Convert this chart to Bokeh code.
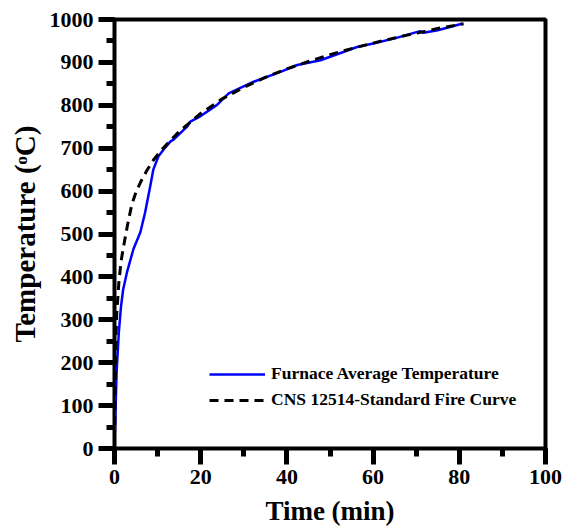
from bokeh.plotting import figure
from bokeh.models import Range1d, SingleIntervalTicker, Legend, LegendItem
from bokeh.embed import file_html
from bokeh.resources import INLINE

# Furnace average temperature
furnace_t = [0.1, 0.5, 1.0, 1.5, 2.0, 2.9, 4.4, 6.0, 7.1, 8.3, 9.0, 10.2, 11.4, 13.0,
             13.7, 16.9, 17.6, 20.0, 23.8, 24.6, 26.5, 32.3, 38.5, 42.4, 47.8, 56.3,
             60.0, 65.0, 70.9, 71.7, 75.0, 80.6]
furnace_T = [40, 180, 270, 330, 370, 411, 465, 504, 550, 612, 650, 681, 697, 716,
             720, 751, 762, 775, 801, 809, 828, 855, 878, 894, 905, 936,
             944, 956, 973, 969, 975, 990]

# CNS 12514 standard fire curve
cns_t = [0, 0.25, 0.5, 1, 1.5, 2, 3, 4, 5, 6, 7.5, 9, 11, 13, 15, 20, 25, 30, 35,
         40, 45, 50, 55, 60, 65, 70, 75, 81]
cns_T = [20, 230, 310, 385, 435, 465, 520, 568, 598, 620, 648, 672, 697, 718, 739,
         781, 815, 842, 865, 885, 902, 918, 932, 945, 957, 968, 979, 990]

labels = ["Furnace Average Temperature", "CNS 12514-Standard Fire Curve"]

FONT = "Liberation Serif"

p = figure(width=563, height=528, output_backend="svg", toolbar_location=None,
           x_range=Range1d(0, 100), y_range=Range1d(0, 1000),
           min_border_left=114, min_border_right=18, min_border_top=19,
           min_border_bottom=77)

p.xgrid.visible = False
p.ygrid.visible = False
p.outline_line_color = "black"
p.outline_line_width = 4
p.outline_line_alpha = 1

r1 = p.line(furnace_t, furnace_T, line_color="#0000ff", line_width=2.5)
r2 = p.line(cns_t, cns_T, line_color="black", line_width=3, line_dash="9 6")

p.xaxis.ticker = SingleIntervalTicker(interval=20, num_minor_ticks=2)
p.yaxis.ticker = SingleIntervalTicker(interval=100, num_minor_ticks=2)

p.axis.major_tick_line_width = 5
p.axis.minor_tick_line_width = 5
p.axis.major_tick_line_color = "black"
p.axis.minor_tick_line_color = "black"
p.axis.major_tick_in = 0
p.axis.major_tick_out = 16
p.axis.minor_tick_in = 0
p.axis.minor_tick_out = 8
p.axis.major_label_text_font = FONT
p.axis.major_label_text_font_style = "bold"
p.axis.major_label_text_font_size = "22px"
p.axis.major_label_text_color = "black"
p.axis.axis_label_text_font = FONT
p.axis.axis_label_text_font_style = "bold"
p.axis.axis_label_text_color = "black"

p.xaxis.axis_label = "Time (min)"
p.xaxis.axis_label_text_font_size = "27px"
p.xaxis.axis_label_standoff = 9
p.yaxis.axis_label = "Temperature (ᵒC)"
p.yaxis.axis_label_text_font_size = "29px"
p.yaxis.axis_label_standoff = 6

legend = Legend(items=[LegendItem(label=labels[0], renderers=[r1]),
                       LegendItem(label=labels[1], renderers=[r2])],
                location=(95, 38), margin=0, padding=0, spacing=5,
                glyph_width=56, glyph_height=20, label_height=20,
                label_standoff=6, border_line_color=None,
                background_fill_alpha=0,
                label_text_font=FONT, label_text_font_style="bold",
                label_text_font_size="17.5px", label_text_color="black")
p.add_layout(legend)

open("out.html", "w").write(file_html(p, INLINE))
